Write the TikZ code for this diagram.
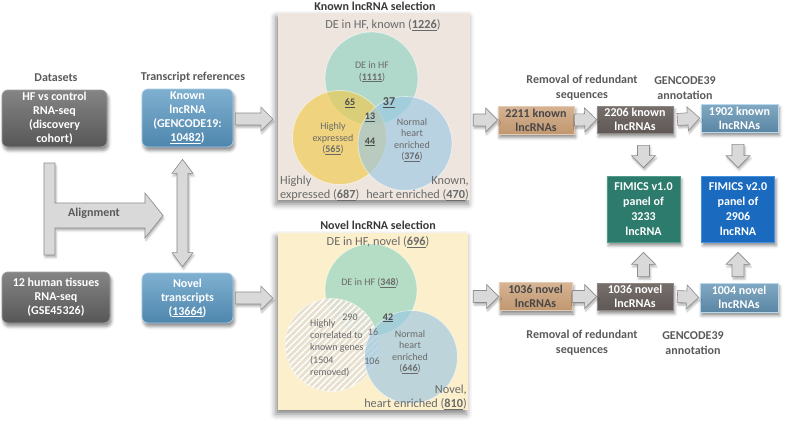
\documentclass[tikz,border=0pt]{standalone}
\usepackage{fontspec}
\setmainfont{Carlito}
\usetikzlibrary{calc,shadows.blur,patterns.meta}

\definecolor{hdrgrey}{HTML}{5A5A5A}
\definecolor{venngrey}{HTML}{6A6A6A}
\definecolor{kbg}{HTML}{EEE6DE}
\definecolor{nbg}{HTML}{FCEFCB}
\definecolor{tealc}{HTML}{8FD3C3}
\definecolor{yellowc}{HTML}{F2C94C}
\definecolor{bluec}{HTML}{9CC8E3}
\definecolor{hatchc}{HTML}{E6DFD2}
\definecolor{trtop}{HTML}{7FB0D0}
\definecolor{trbot}{HTML}{4E86AD}
\definecolor{trline}{HTML}{A8CDE6}
\definecolor{tantop}{HTML}{D6B394}
\definecolor{tanbot}{HTML}{C0976F}
\definecolor{tanline}{HTML}{E4CCB4}
\definecolor{midtop}{HTML}{766F6C}
\definecolor{midbot}{HTML}{5F5856}
\definecolor{midline}{HTML}{8E8784}
\definecolor{bluetop}{HTML}{82A9C3}
\definecolor{bluebot}{HTML}{5A86A4}
\definecolor{blueline}{HTML}{B8D8EE}
\definecolor{fimgreen}{HTML}{2C7B6C}
\definecolor{fimgreenl}{HTML}{4F9C8C}
\definecolor{fimblue}{HTML}{1A6BBF}
\definecolor{fimbluel}{HTML}{4590DF}

\newcommand{\un}[1]{\underline{\textbf{#1}}}
\newcommand{\arrsw}{6pt}
\newcommand{\arrhw}{12pt}
\newcommand{\arrhl}{12pt}

\tikzset{
    box/.style={font=\fontsize{12}{14}\selectfont\bfseries, text=white, align=center,
        inner sep=1pt, line width=.8pt,
        blur shadow={shadow xshift=1.5pt, shadow yshift=-3.5pt, shadow blur radius=3pt, shadow opacity=45}},
    dsbox/.style={box, rounded corners=6pt, top color=black!48, bottom color=black!66, draw=black!38},
    trbox/.style={box, rounded corners=6pt, minimum width=91pt, top color=trtop, bottom color=trbot, draw=trline},
    tanbox/.style={box, text=black!72, top color=tantop, bottom color=tanbot, draw=tanline, minimum width=76pt, minimum height=28pt},
    midbox/.style={box, top color=midtop, bottom color=midbot, draw=midline, minimum width=76pt, minimum height=27pt},
    bluebox/.style={box, top color=bluetop, bottom color=bluebot, draw=blueline, minimum width=77pt, minimum height=28pt},
    fimbox/.style={box, font=\fontsize{12}{15}\selectfont\bfseries, minimum width=73pt, minimum height=66pt},
    hdr/.style={font=\fontsize{12}{15}\selectfont\bfseries, text=hdrgrey, align=center, inner sep=0pt},
    panel/.style={inner sep=0pt, blur shadow={shadow xshift=-2pt, shadow yshift=-4pt, shadow blur radius=6pt, shadow opacity=50}},
    vlbl/.style={font=\fontsize{12.3}{14.5}\selectfont, text=venngrey, inner sep=0pt},
    vsm/.style={font=\fontsize{10}{11.5}\selectfont, text=venngrey, align=center, inner sep=0pt},
    vnum/.style={font=\fontsize{10}{12}\selectfont, text=black!70, inner sep=0pt},
    venn/.style={draw=white, draw opacity=.5, line width=.8pt, fill opacity=.65},
    blockarr/.style={fill=black!15, draw=black!45, line width=.6pt,
        blur shadow={shadow xshift=1pt, shadow yshift=-2.5pt, shadow blur radius=2pt, shadow opacity=30}},
}

% block arrow from #2 to #3
\newcommand{\blockarrow}[3][]{%
    \coordinate (ba-s) at #2;
    \coordinate (ba-e) at #3;
    \coordinate (ba-h) at ($(ba-e)!\arrhl!(ba-s)$);
    \filldraw[blockarr,#1] ($(ba-s)!\arrsw!90:(ba-e)$) -- ($(ba-h)!\arrsw!90:(ba-e)$)
        -- ($(ba-h)!\arrhw!90:(ba-e)$) -- (ba-e) -- ($(ba-h)!\arrhw!-90:(ba-e)$)
        -- ($(ba-h)!\arrsw!-90:(ba-e)$) -- ($(ba-s)!\arrsw!-90:(ba-e)$) -- cycle;}
% block arrow with two heads
\newcommand{\dblarrow}[2]{%
    \coordinate (da-s) at #1;
    \coordinate (da-e) at #2;
    \coordinate (da-h1) at ($(da-s)!14pt!(da-e)$);
    \coordinate (da-h2) at ($(da-e)!14pt!(da-s)$);
    \filldraw[blockarr] (da-s) -- ($(da-h1)!10.5pt!90:(da-e)$) -- ($(da-h1)!5.5pt!90:(da-e)$)
        -- ($(da-h2)!5.5pt!90:(da-e)$) -- ($(da-h2)!10.5pt!90:(da-e)$) -- (da-e)
        -- ($(da-h2)!10.5pt!-90:(da-e)$) -- ($(da-h2)!5.5pt!-90:(da-e)$)
        -- ($(da-h1)!5.5pt!-90:(da-e)$) -- ($(da-h1)!10.5pt!-90:(da-e)$) -- cycle;}

\begin{document}
\begin{tikzpicture}[x=1pt,y=-1pt]
\useasboundingbox (0,0) rectangle (787,426);

% datasets and references
\node[hdr] (dslbl) at (56,78) {Datasets};
\node[hdr] (trlbl) at (193,77) {Transcript references};
\node[dsbox, minimum width=105pt, minimum height=57pt] (hf) at (54.5,118.5) {HF vs control\\RNA-seq\\(discovery\\cohort)};
\node[dsbox, minimum width=108pt, minimum height=51pt] (tis) at (56,297.5) {12 human tissues\\RNA-seq\\(GSE45326)};
\node[trbox, minimum height=58pt] (known) at (187.5,118) {Known\\lncRNA\\(GENCODE19:\\\underline{10482})};
\node[trbox, minimum height=50pt] (novel) at (187.5,298) {Novel\\transcripts\\(\underline{13664})};

% alignment arrow
\filldraw[blockarr] (44,163) -- (55,163) -- (55,203) -- (145,203) -- (145,193) -- (163,215.5)
    -- (145,238) -- (145,228) -- (55,228) -- (55,255) -- (44,255) -- cycle;
\node[hdr, text=black!65] (align) at (94,213) {Alignment};
\dblarrow{($(known.south)+(-5,12)$)}{($(novel.north)+(-5,-6)$)}

% known lncRNA selection
\node[panel, fill=kbg, minimum width=192pt, minimum height=187pt] (kpanel) at (374,106.5) {};
\node[hdr, text=black!78] (ktitle) at (375,6) {Known lncRNA selection};
\fill[venn, fill=tealc] (371.5,78.5) circle[radius=46.5pt];
\fill[venn, fill=yellowc] (339.5,137.5) circle[radius=47pt];
\fill[venn, fill=bluec] (405,143.5) circle[radius=47pt];
\node[vlbl] (kde) at (383,25) {DE in HF, known (\un{1226})};
\node[vsm] (kde1) at (372,72) {DE in HF\\(\un{1111})};
\node[vsm] (khe) at (333,139) {Highly\\expressed\\(\un{565})};
\node[vsm] (knh) at (412,140) {Normal\\heart\\enriched\\(\un{376})};
\node[vnum] (k65) at (350,103) {\un{65}};
\node[vnum, font=\fontsize{12}{14}\selectfont] (k37) at (389,103) {\un{37}};
\node[vnum] (k13) at (370,117) {\un{13}};
\node[vnum] (k44) at (370,142) {\un{44}};
\node[vlbl, align=left, anchor=south west] (khe2) at (280,201) {Highly\\expressed (\un{687})};
\node[vlbl, align=right, anchor=south east] (knh2) at (469,201) {Known,\\heart enriched (\un{470})};

% novel lncRNA selection
\node[panel, fill=nbg, minimum width=190pt, minimum height=177pt] (npanel) at (373,321.5) {};
\node[hdr, text=black!78] (ntitle) at (378,225) {Novel lncRNA selection};
\fill[venn, fill=tealc] (371,290) circle[radius=46pt];
\fill[venn, fill=hatchc, fill opacity=.85] (331.5,345) circle[radius=46.5pt];
\fill[pattern={Lines[angle=45,distance=4.5pt,line width=1.4pt]}, pattern color=white] (331.5,345) circle[radius=46.5pt];
\fill[venn, fill=bluec] (411,357) circle[radius=46.5pt];
\node[vlbl] (nde) at (378,242) {DE in HF, novel (\un{696})};
\node[vsm] (nde1) at (370,283) {DE in HF (\un{348})};
\node[vsm, align=left, anchor=north west, font=\fontsize{10}{12.3}\selectfont] (ncor) at (310,319) {Highly\\correlated to\\known genes\\(1504\\removed)};
\node[vsm] (nnh) at (410,352) {Normal\\heart\\enriched\\(\un{646})};
\node[vnum, text=venngrey] (n290) at (350,317) {290};
\node[vnum] (n42) at (388,318) {\un{42}};
\node[vnum, text=venngrey] (n16) at (373,332) {16};
\node[vnum, text=venngrey] (n106) at (372,361) {106};
\node[vlbl, align=right, anchor=south east] (nnh2) at (467,410) {Novel,\\heart enriched (\un{810})};

\blockarrow{($(known.east)+(2,1)$)}{($(known.east -| kpanel.west)+(-5,1)$)}
\blockarrow{($(novel.east)+(2,0)$)}{($(novel.east -| npanel.west)+(-5,0)$)}

% filtering steps
\node[hdr] (rm1) at (582,88) {Removal of redundant\\sequences};
\node[hdr] (gc1) at (685,88) {GENCODE39\\annotation};
\node[tanbox] (k1) at (536,120) {2211 known\\lncRNAs};
\node[midbox] (k2) at (635,119.5) {2206 known\\lncRNAs};
\node[bluebox] (k3) at (739.5,118) {1902 known\\lncRNAs};
\node[fimbox, fill=fimgreen, draw=fimgreenl] (f1) at (643.5,209) {FIMICS v1.0\\panel of\\3233\\lncRNA};
\node[fimbox, fill=fimblue, draw=fimbluel] (f2) at (738,209) {FIMICS v2.0\\panel of\\2906\\lncRNA};
\node[tanbox, minimum width=73pt] (n1) at (535.5,296.5) {1036 novel\\lncRNAs};
\node[midbox] (n2) at (635,296.5) {1036 novel\\lncRNAs};
\node[bluebox, minimum width=78pt, minimum height=29pt] (n3) at (739,297.5) {1004 novel\\lncRNAs};
\node[hdr] (rm2) at (582,343) {Removal of redundant\\sequences};
\node[hdr] (gc2) at (693,343) {GENCODE39\\annotation};

\blockarrow{($(k1.west -| kpanel.east)+(3,0)$)}{(k1.west)}
\blockarrow{(k1.east)}{(k2.west)}
\blockarrow{($(k2.east)+(4,0)$)}{($(k3.west)+(-1,0)$)}
\blockarrow{($(k2.south -| f1.north)+(0,12)$)}{($(f1.north)+(0,-8)$)}
\blockarrow{($(k3.south -| f2.north)+(0,12)$)}{($(f2.north)+(0,-8)$)}
\blockarrow{($(n1.west -| npanel.east)+(5,0)$)}{(n1.west)}
\blockarrow{(n1.east)}{(n2.west)}
\blockarrow{($(n2.east)+(4,0)$)}{($(n3.west)+(-1,0)$)}
\blockarrow{($(n2.north -| f1.south)+(0,-6)$)}{($(f1.south)+(0,10)$)}
\blockarrow{($(n3.north -| f2.south)+(0,-6)$)}{($(f2.south)+(0,10)$)}
\end{tikzpicture}
\end{document}
